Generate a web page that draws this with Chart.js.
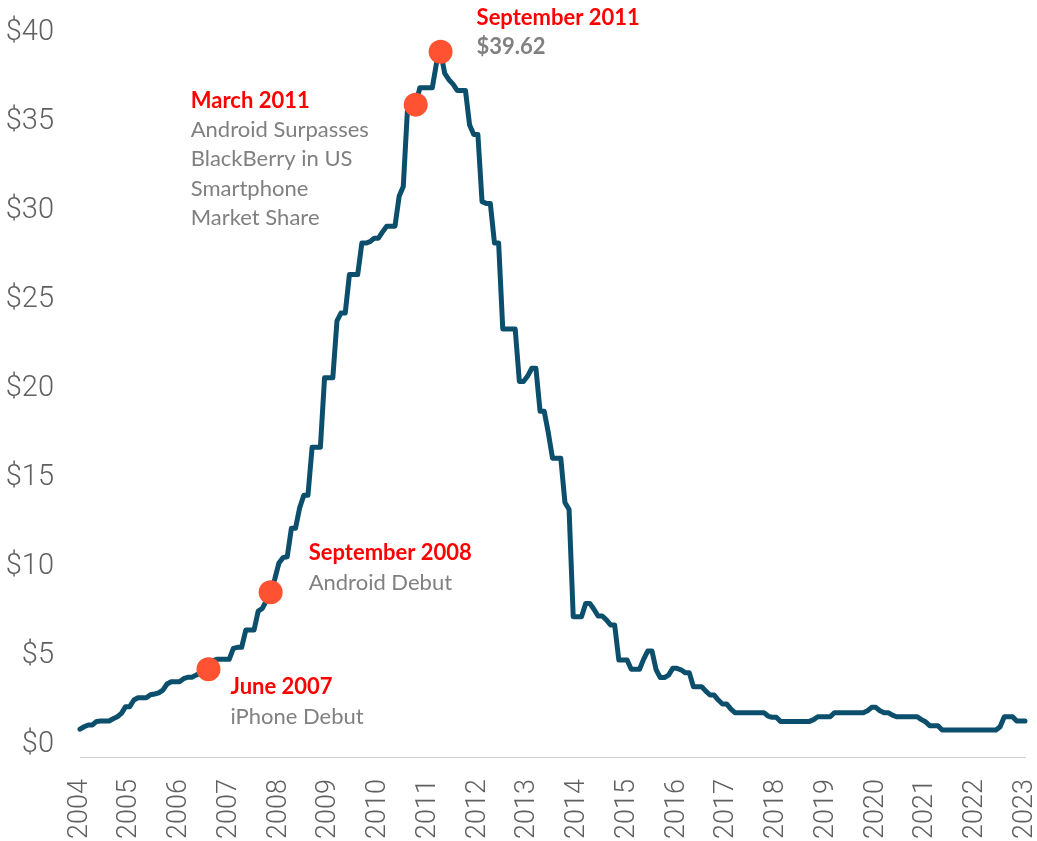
<!DOCTYPE html>
<html>
<head>
<meta charset="utf-8">
<script src="https://cdn.jsdelivr.net/npm/chart.js@4.4.1/dist/chart.umd.min.js"></script>
<style>
  html, body { margin: 0; padding: 0; background: #ffffff; }
  #wrap { width: 1037px; height: 841px; }
</style>
</head>
<body>
<div id="wrap"><canvas id="chart" width="1037" height="841"></canvas></div>
<script>
// years shown on the axis, one label per January
const years = ["2004", "2005", "2006", "2007", "2008", "2009", "2010", "2011", "2012", "2013",
               "2014", "2015", "2016", "2017", "2018", "2019", "2020", "2021", "2022", "2023"];
const months = ["01", "02", "03", "04", "05", "06", "07", "08", "09", "10", "11", "12"];

// monthly price (USD), Jan 2004 .. Jan 2023
const prices = [
    1.56, 1.70, 1.80, 1.80, 2.00, 2.02, 2.02, 2.02, 2.15, 2.26, 2.45, 2.83,         // 2004
    2.83, 3.20, 3.33, 3.33, 3.33, 3.50, 3.54, 3.60, 3.76, 4.10, 4.23, 4.23,         // 2005
    4.23, 4.40, 4.48, 4.48, 4.60, 4.70, 4.80, 4.93, 5.40, 5.49, 5.49, 5.49,         // 2006
    5.49, 6.10, 6.16, 6.16, 7.13, 7.13, 7.13, 8.20, 8.35, 8.80, 9.25, 10.00,        // 2007
    10.90, 11.20, 11.25, 12.85, 12.85, 14.00, 14.70, 14.70, 17.40, 17.40, 17.40, 21.30, // 2008
    21.30, 21.30, 24.50, 24.95, 24.95, 27.10, 27.10, 27.10, 28.87, 28.87, 28.95, 29.15, // 2009
    29.15, 29.50, 29.82, 29.82, 29.82, 31.50, 32.05, 36.35, 36.50, 36.65, 37.60, 37.60, // 2010
    37.60, 37.60, 38.97, 39.62, 38.40, 38.05, 37.80, 37.45, 37.45, 37.45, 35.50, 34.97, // 2011
    34.97, 31.20, 31.10, 31.10, 28.88, 28.88, 24.05, 24.05, 24.05, 24.05, 21.10, 21.10, // 2012
    21.40, 21.84, 21.84, 19.42, 19.42, 18.20, 16.79, 16.79, 16.79, 14.30, 13.90, 7.88,  // 2013
    7.88, 7.88, 8.63, 8.63, 8.30, 7.92, 7.92, 7.70, 7.42, 7.42, 5.45, 5.45,         // 2014
    5.45, 4.93, 4.93, 4.93, 5.50, 5.96, 5.96, 4.90, 4.46, 4.46, 4.60, 4.98,         // 2015
    4.98, 4.90, 4.74, 4.74, 3.95, 3.95, 3.95, 3.70, 3.48, 3.48, 3.20, 2.98,         // 2016
    2.98, 2.70, 2.49, 2.49, 2.49, 2.49, 2.49, 2.49, 2.49, 2.49, 2.30, 2.23,         // 2017
    2.23, 2.00, 2.00, 2.00, 2.00, 2.00, 2.00, 2.00, 2.00, 2.10, 2.26, 2.26,         // 2018
    2.26, 2.26, 2.49, 2.49, 2.49, 2.49, 2.49, 2.49, 2.49, 2.49, 2.60, 2.79,         // 2019
    2.79, 2.60, 2.49, 2.49, 2.35, 2.26, 2.26, 2.26, 2.26, 2.26, 2.26, 2.10,         // 2020
    1.98, 1.76, 1.76, 1.76, 1.52, 1.52, 1.52, 1.52, 1.52, 1.52, 1.52, 1.52,         // 2021
    1.52, 1.52, 1.52, 1.52, 1.52, 1.52, 1.70, 2.26, 2.26, 2.26, 2.02, 2.02,         // 2022
    2.02                                                                              // 2023
];

// highlighted events (month on the axis where the dot sits)
const eventMonths = ["2006-08", "2007-11", "2010-10", "2011-04"];
const eventTitles = ["June 2007", "September 2008", "March 2011", "September 2011"];
const eventNotes = [
    ["iPhone Debut"],
    ["Android Debut"],
    ["Android Surpasses", "BlackBerry in US", "Smartphone", "Market Share"],
    ["$39.62"]
];

const yTicks = [0, 5, 10, 15, 20, 25, 30, 35, 40];

// build month categories from the years
let labels = [];
for (let y of years) {
    for (let m of months) {
        if (labels.length < prices.length) labels.push(y + "-" + m);
    }
}

const eventData = labels.map(l => {
    const i = eventMonths.indexOf(l);
    return i >= 0 ? prices[labels.indexOf(l)] : null;
});

// text placement next to each dot (offset from dot centre)
const noteOffsets = [{ dx: 22, dy: 18 }, { dx: 38, dy: -39 }, { dx: -225, dy: -4 }, { dx: 36, dy: -34 }];
const annoFont = "Lato, 'Open Sans', sans-serif";

const annotations = {
    id: "annotations",
    afterDatasetsDraw(chart) {
        const ctx = chart.ctx;
        const meta = chart.getDatasetMeta(0);
        ctx.save();
        ctx.textAlign = "left";
        ctx.textBaseline = "middle";
        let k = 0;
        for (let i = 0; i < eventData.length; i++) {
            if (eventData[i] === null) continue;
            const pt = meta.data[i];
            const off = noteOffsets[k];
            const x = pt.x + off.dx;
            let y = pt.y + off.dy;
            ctx.font = "bold 22px " + annoFont;
            ctx.fillStyle = "#ff0000";
            ctx.fillText(eventTitles[k], x, y);
            for (let line of eventNotes[k]) {
                y += 29.3;
                ctx.font = (k === 3 ? "bold " : "") + "22px " + annoFont;
                ctx.fillStyle = "#808080";
                ctx.fillText(line, x, y);
            }
            k++;
        }
        ctx.restore();
    }
};

const ctx = document.getElementById("chart").getContext("2d");
const chart = new Chart(ctx, {
    type: "line",
    data: {
        labels: labels,
        datasets: [
            {
                label: "Events",
                data: eventData,
                showLine: false,
                pointRadius: 12,
                pointBackgroundColor: "#ff5233",
                pointBorderWidth: 0,
                clip: false,
                order: -1
            },
            {
                label: "Price",
                data: prices,
                borderColor: "#0b4f6c",
                borderWidth: 5,
                pointRadius: 0,
                tension: 0,
                borderJoinStyle: "round",
                borderCapStyle: "round",
                fill: false,
                clip: false,
                order: 0
            }
        ]
    },
    options: {
        responsive: false,
        animation: false,
        events: [],
        layout: { padding: { top: 45, right: 12, left: 0, bottom: 0 } },
        plugins: {
            legend: { display: false },
            tooltip: { enabled: false }
        },
        scales: {
            x: {
                grid: { display: false, drawTicks: false },
                border: { display: true, color: "#d0d0d0", width: 1 },
                ticks: {
                    autoSkip: false,
                    minRotation: 90,
                    maxRotation: 90,
                    padding: 22,
                    color: "#606060",
                    font: { family: "Roboto", weight: "300", size: 27 },
                    callback: function (value) {
                        const l = this.getLabelForValue(value);
                        return l.endsWith("-01") ? l.slice(0, 4) : "";
                    }
                },
                afterFit(scale) {
                    scale.height = 84;
                    scale.paddingLeft = 0;
                    scale.paddingRight = 0;
                }
            },
            y: {
                min: 0,
                max: 40,
                afterBuildTicks(scale) { scale.ticks = yTicks.map(v => ({ value: v })); },
                grid: { display: false, drawTicks: false },
                border: { display: false },
                ticks: {
                    padding: 26,
                    labelOffset: -12,
                    color: "#606060",
                    font: { family: "Roboto", weight: "300", size: 29 },
                    callback: v => "$" + v
                },
                afterFit(scale) {
                    scale.width = 80;
                    scale.paddingTop = 0;
                    scale.paddingBottom = 0;
                }
            }
        }
    },
    plugins: [annotations]
});
</script>
</body>
</html>
